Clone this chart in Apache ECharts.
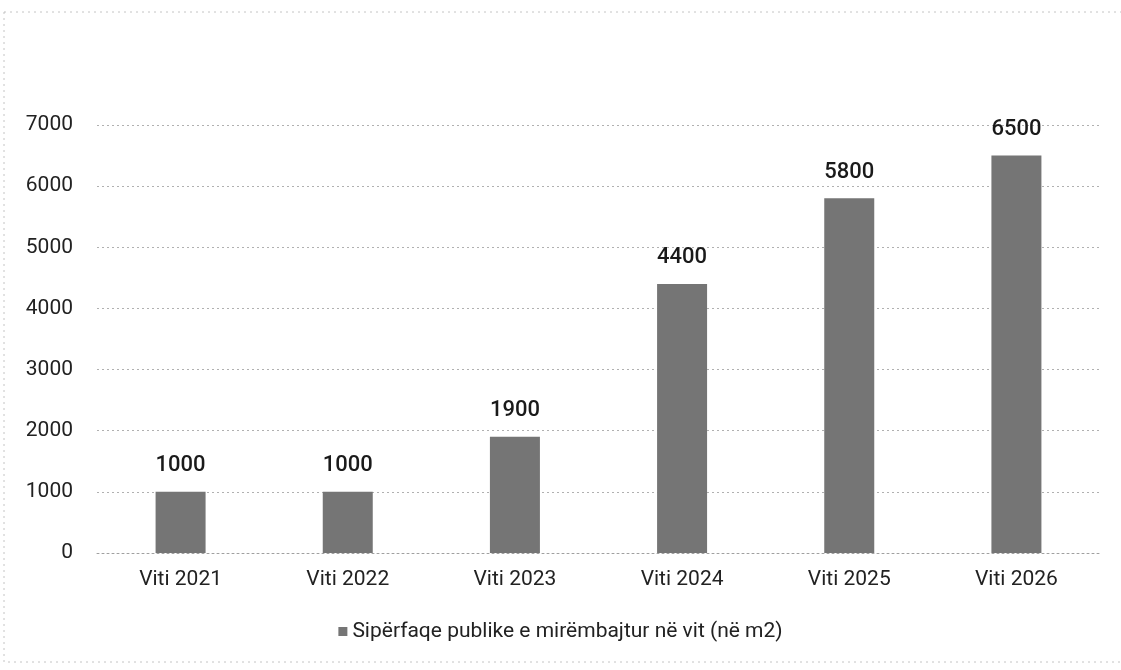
<!DOCTYPE html>
<html>
<head>
<meta charset="utf-8">
<script src="https://cdn.jsdelivr.net/npm/echarts@6/dist/echarts.min.js"></script>
<style>
  html, body { margin: 0; padding: 0; background: #fff; }
  #chart { width: 1121px; height: 670px; }
</style>
</head>
<body>
<div id="chart"></div>
<script>
// Public area maintained per year (m2)
const categories = ['Viti 2021', 'Viti 2022', 'Viti 2023', 'Viti 2024', 'Viti 2025', 'Viti 2026'];
const areaValues = [1000, 1000, 1900, 4400, 5800, 6500];
const seriesName = 'Sipërfaqe publike e mirëmbajtur në vit (në m2)';
const yTicks = { min: 0, max: 7000, interval: 1000 };

const chart = echarts.init(document.getElementById('chart'), null, { renderer: 'canvas' });

const font = 'Roboto, "Noto Sans", sans-serif';

chart.setOption({
  animation: false,
  backgroundColor: '#ffffff',
  textStyle: { fontFamily: font },
  graphic: [
    {
      type: 'rect',
      shape: { x: 4, y: 12, width: 1130, height: 650 },
      style: { fill: 'none', stroke: '#c4c4c4', lineWidth: 1, lineDash: [2, 4] },
      silent: true
    }
  ],
  grid: { left: 97, right: 21, top: 125, bottom: 117, containLabel: false },
  legend: {
    data: [seriesName],
    bottom: 23,
    left: 'center',
    itemWidth: 9,
    itemHeight: 9,
    itemGap: 6,
    icon: 'rect',
    textStyle: { fontSize: 21, color: '#222', fontFamily: font }
  },
  xAxis: {
    type: 'category',
    data: categories,
    axisLine: { show: true, lineStyle: { color: '#a0a0a0', type: [2, 3] } },
    axisTick: { show: false },
    axisLabel: { fontSize: 21, color: '#222', margin: 16, fontFamily: font }
  },
  yAxis: {
    type: 'value',
    min: yTicks.min,
    max: yTicks.max,
    interval: yTicks.interval,
    axisLine: { show: false },
    axisTick: { show: false },
    axisLabel: {
      fontSize: 21,
      color: '#222',
      margin: 24,
      align: 'right',
      fontFamily: font,
      formatter: (v) => String(v)
    },
    splitLine: { lineStyle: { color: '#b0b0b0', type: [2, 3], width: 1 } }
  },
  series: [
    {
      name: seriesName,
      type: 'bar',
      data: areaValues,
      barWidth: 50,
      itemStyle: { color: '#757575' },
      label: {
        show: true,
        position: 'top',
        distance: 15,
        fontSize: 22,
        fontWeight: 500,
        color: '#1a1a1a',
        fontFamily: font
      }
    }
  ]
});
</script>
</body>
</html>
